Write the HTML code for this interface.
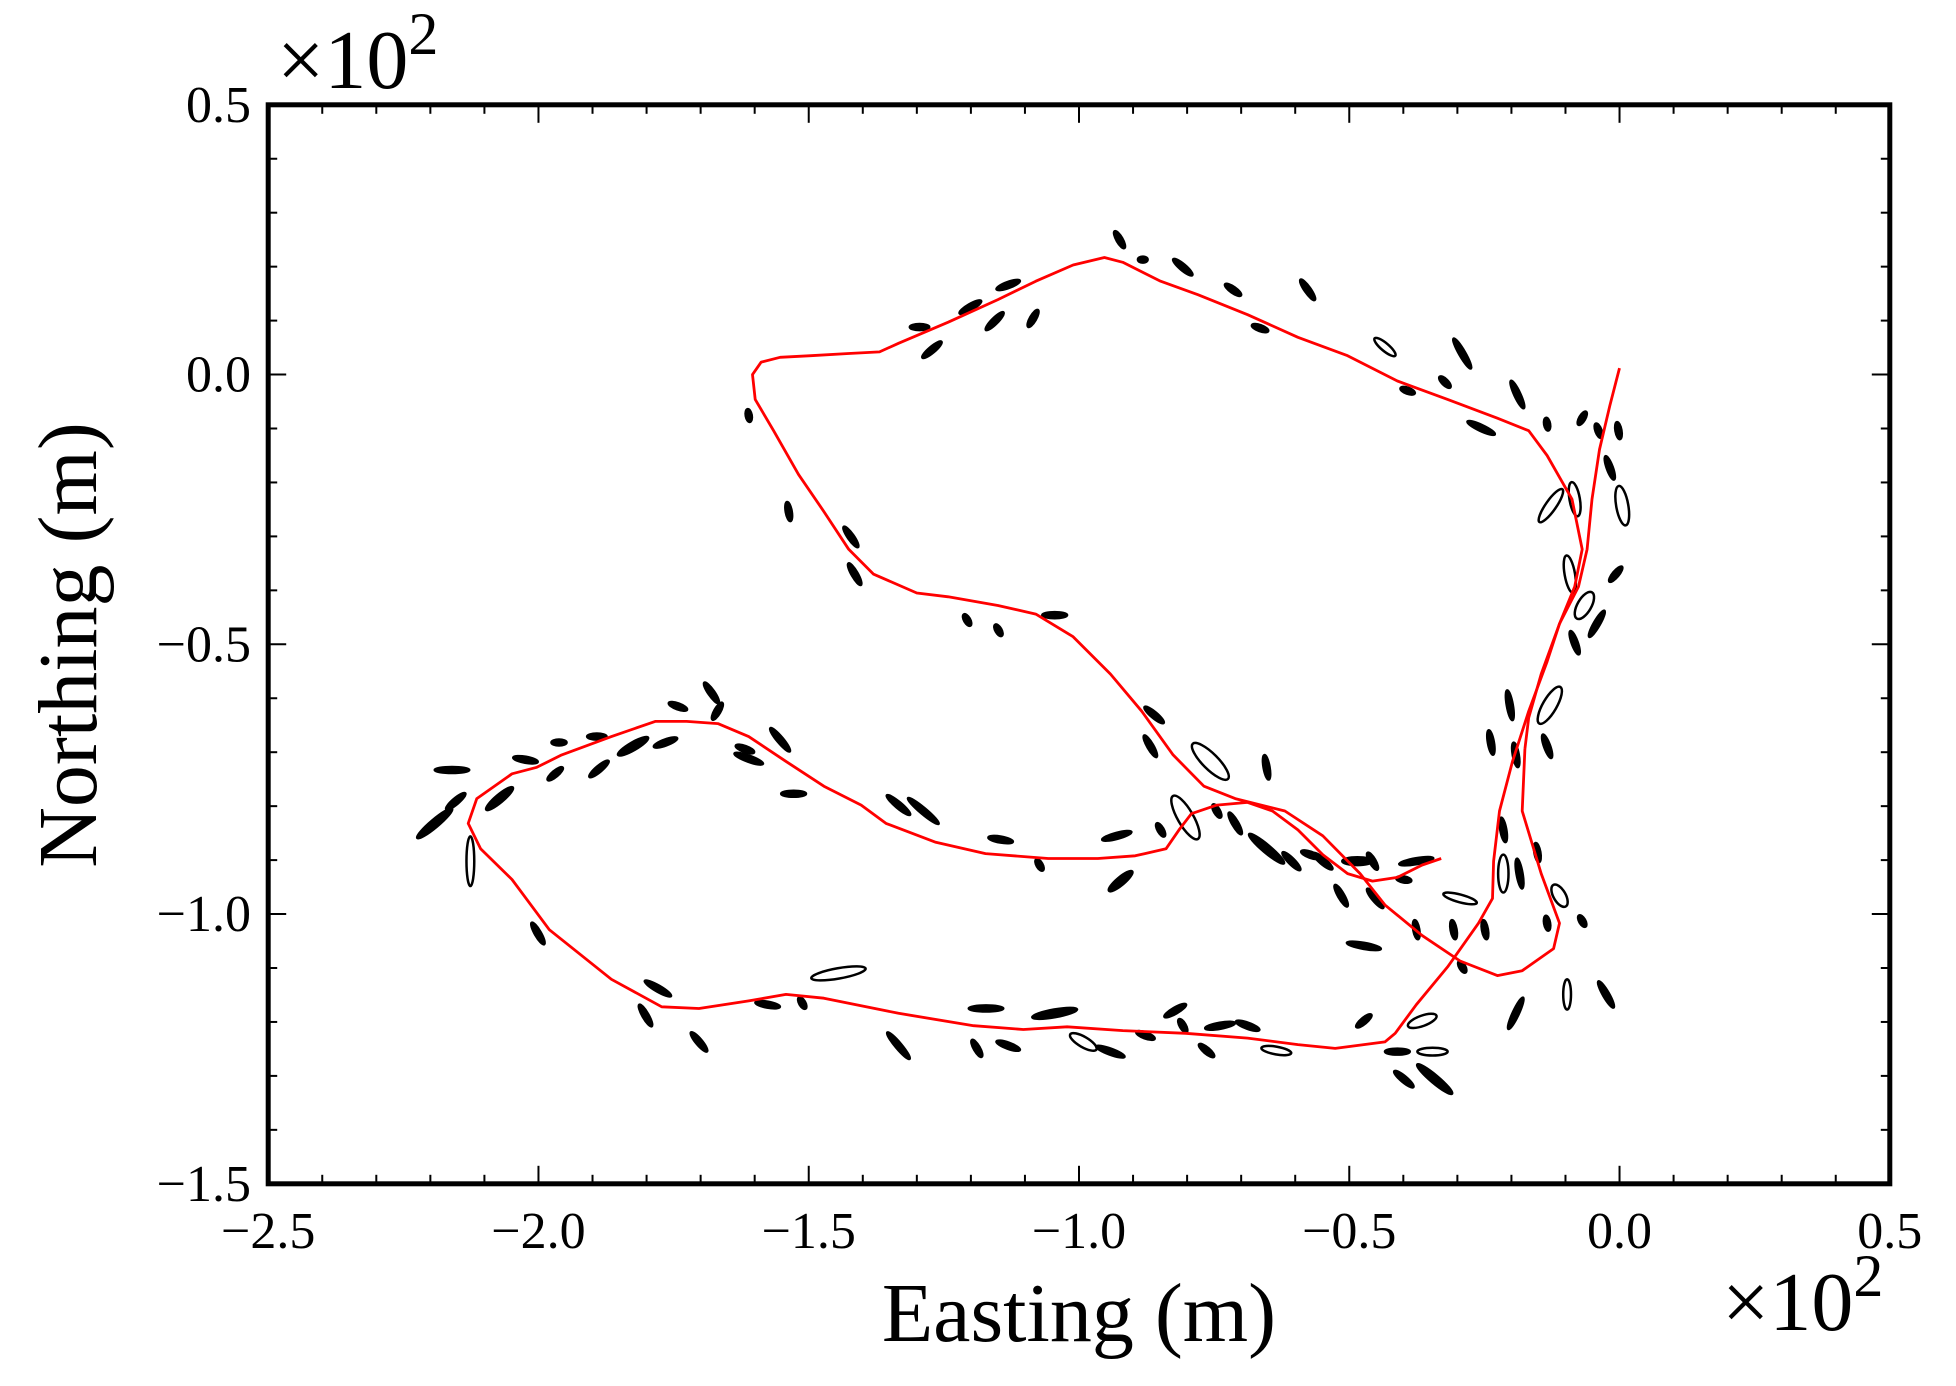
<!DOCTYPE html>
<html><head><meta charset="utf-8">
<style>
html,body{margin:0;padding:0;background:#fff;}
svg{display:block;}
text{font-family:"Liberation Serif",serif;fill:#000;}
</style></head>
<body>
<svg id="chart" width="1956" height="1386" viewBox="0 0 1956 1386" xmlns="http://www.w3.org/2000/svg">
<g id="grid-ticks"></g>
<g id="ellipses"></g>
<g id="paths"></g>
<rect x="268.2" y="104.8" width="1621.6" height="1079" fill="none" stroke="#000" stroke-width="5"/>
<g id="labels"></g>
<text x="277" y="88" font-size="84">×10<tspan dy="-34" font-size="60">2</tspan></text>
<text x="1722" y="1330" font-size="84">×10<tspan dy="-34" font-size="60">2</tspan></text>
<text x="1079" y="1341" font-size="84" text-anchor="middle">Easting (m)</text>
<text transform="translate(96,645) rotate(-90)" font-size="84" text-anchor="middle">Northing (m)</text>
</svg>
<script>
// Trajectory A (easting, northing) in metres
const pathAE = [0,-1.8,-3.7,-5.1,-6.0,-7.6,-11.1,-13.4,-16.8,-19.8,-22.2,-23.3,-23.5,-26.1,-31.8,-37.6,-41.5,-43.4,-52.6,-59.5,-68.8,-80.3,-91.9,-102.2,-110.3,-119.5,-133.4,-147.2,-154.2,-161.1,-170.3,-177.2,-186.5,-198.0,-204.9,-210.7,-213.0,-211.4,-204.9,-200.3,-195.7,-186.5,-178.4,-172.6,-166.8,-161.1,-154.2,-147.2,-140.3,-135.7,-126.5,-117.3,-105.7,-96.5,-89.6,-83.9,-81.5,-79.2,-74.5,-68.8,-64.2,-59.5,-54.9,-50.3,-45.7,-41.1,-36.5,-33.0];
const pathAN = [1.2,-5.8,-13.9,-23.1,-32.4,-39.3,-46.2,-53.2,-62.4,-71.7,-80.9,-90.2,-97.1,-101.7,-109.8,-116.8,-122.1,-123.7,-124.9,-124.2,-123.0,-122.1,-121.6,-120.9,-121.4,-120.7,-118.4,-115.6,-114.9,-116.1,-117.5,-117.2,-112.1,-102.9,-93.6,-87.9,-83.2,-78.6,-74.0,-72.8,-70.5,-67.1,-64.3,-64.3,-64.7,-67.1,-71.7,-76.3,-79.8,-83.2,-86.7,-88.8,-89.7,-89.7,-89.2,-87.9,-84.4,-81.4,-79.8,-79.3,-80.9,-84.4,-89.0,-92.5,-93.9,-93.2,-90.9,-89.7];
// Trajectory B
const pathBE = [-17.5,-18.0,-14.5,-11.1,-12.2,-18.0,-22.6,-29.5,-36.5,-43.4,-48.0,-54.9,-61.9,-71.1,-76.9,-82.6,-88.4,-94.2,-101.1,-108.0,-115.0,-124.2,-130.0,-138.0,-142.6,-147.2,-151.9,-156.5,-159.9,-160.4,-158.8,-155.3,-149.6,-142.6,-136.9,-133.4,-124.2,-115.0,-108.0,-101.1,-95.3,-91.9,-84.9,-78.0,-68.8,-59.5,-50.3,-41.1,-31.8,-22.6,-16.8,-13.4,-8.8,-6.9,-8.3,-11.1,-14.5,-16.8,-17.5];
const pathBN = [-69.4,-80.9,-92.5,-101.7,-106.4,-110.5,-111.4,-108.7,-104.0,-98.3,-92.5,-85.5,-80.9,-78.6,-76.3,-70.5,-62.4,-55.5,-48.6,-44.4,-42.8,-41.2,-40.5,-37.0,-32.4,-25.4,-18.5,-10.4,-4.6,0,2.3,3.2,3.5,3.9,4.2,5.8,9.7,13.9,17.3,20.3,21.7,20.8,17.3,14.8,11.1,6.9,3.5,-1.2,-4.6,-8.1,-10.4,-15.0,-23.1,-32.4,-39.3,-46.2,-55.5,-63.6,-69.4];
// Ellipses: centre easting, northing, semi-axes (m), orientation (deg), open flag
const ellE = [-92.5,-88.2,-80.8,-71.5,-57.7,-66.5,-43.4,-29.1,-32.3,-39.2,-18.9,-25.6,-13.4,-6.9,-3.9,-0.2,-1.8,0.5,-12.7,-8.3,-0.7,-9.2,-6.5,-4.2,-8.3,-12.9,-20.3,-23.8,-13.4,-19.2,-21.5,-21.5,-11.1,-13.4,-6.9,-29.5,-24.9,-30.7,-37.6,-29.1,-47.3,-45.2,-51.5,-39.9,-37.6,-48.5,-57.2,-45.7,-54.9,-60.7,-65.3,-71.1,-74.5,-65.3,-75.7,-80.3,-86.8,-86.1,-92.3,-93.0,-84.9,-104.5,-114.9,-120.7,-141.5,-142.2,-153.7,-161.1,-127.2,-129.5,-115.6,-108.5,-120.1,-113.1,-168.0,-166.9,-174.2,-176.5,-182.5,-189.2,-188.8,-196.2,-196.9,-202.4,-207.2,-216.0,-215.3,-219.2,-212.6,-200.1,-177.9,-180.2,-170.3,-161.8,-155.3,-161.1,-152.8,-133.4,-128.8,-114.5,-107.3,-144.5,-157.6,-151.2,-133.4,-118.9,-117.2,-113.1,-104.5,-99.2,-94.2,-87.7,-82.2,-80.8,-73.9,-76.4,-68.8,-63.5,-47.3,-36.5,-41.1,-34.6,-39.9,-34.2,-19.2,-9.7,-2.5,-15.2,-18.5];
const ellN = [25.0,21.3,19.9,15.7,15.7,8.6,5.1,3.9,-1.4,-3.0,-3.7,-9.9,-9.2,-8.1,-10.4,-10.4,-17.3,-24.3,-24.3,-23.1,-37.0,-37.0,-42.8,-46.2,-49.7,-61.3,-61.3,-68.2,-68.9,-70.5,-84.4,-92.5,-96.6,-101.7,-101.3,-97.1,-102.9,-102.9,-102.9,-109.8,-105.9,-97.1,-96.6,-93.6,-90.2,-90.2,-89.0,-90.2,-90.2,-90.2,-87.9,-83.2,-80.9,-72.8,-71.7,-82.1,-68.9,-63.1,-93.9,-85.5,-84.4,-44.6,-47.4,-45.5,-37.0,-30.1,-25.4,-7.6,4.6,8.8,9.9,10.4,12.5,16.6,-59.0,-62.4,-61.5,-68.2,-68.9,-67.1,-73.1,-68.2,-74.0,-71.4,-78.6,-73.3,-79.1,-83.2,-90.2,-103.6,-113.8,-118.8,-123.7,-69.4,-67.7,-71.2,-77.7,-79.8,-80.9,-86.2,-90.9,-111.0,-116.8,-116.5,-124.4,-124.9,-117.5,-124.4,-118.4,-123.7,-125.5,-122.5,-117.9,-120.7,-120.7,-125.3,-120.7,-125.3,-119.8,-119.8,-125.5,-125.5,-130.6,-130.6,-118.4,-114.9,-114.9,-88.6,-92.5];
const ellA = [1.8,0.9,2.3,1.8,2.3,1.6,2.5,3.2,1.4,1.4,2.8,2.8,1.2,1.4,1.4,1.6,2.3,3.7,3.7,3.2,1.8,3.5,2.8,2.8,2.3,3.9,2.8,2.3,2.3,2.3,2.3,3.5,2.3,1.4,1.2,3.2,1.8,1.8,1.8,1.2,3.2,2.3,2.3,1.4,3.2,2.8,1.8,1.8,2.3,2.3,4.2,2.3,1.4,2.3,4.6,4.6,2.3,2.3,2.8,2.8,1.4,2.3,1.2,1.2,2.3,2.3,1.8,1.2,2.3,1.8,2.3,1.8,2.3,2.3,2.3,1.8,1.8,2.3,3.2,1.8,2.3,1.4,1.8,2.3,3.2,3.2,2.3,4.2,4.6,2.3,2.8,2.3,2.3,1.8,2.8,2.8,2.3,2.8,3.7,2.3,1.2,5.1,2.3,1.2,3.2,1.8,3.2,2.3,4.2,2.8,2.8,1.8,2.3,1.4,2.8,1.8,2.3,2.8,1.8,2.8,2.3,2.8,2.3,4.2,3.2,2.8,2.8,1.8,2.8];
const ellB = [0.7,0.7,0.7,0.7,0.7,0.7,0.9,0.7,0.7,0.7,0.7,0.7,0.7,0.7,0.7,0.7,0.7,1.4,1.2,1.2,0.7,1.2,1.6,0.7,0.7,1.6,0.7,0.7,0.7,0.7,0.7,1.2,1.4,0.7,0.7,0.9,0.7,0.7,0.7,0.7,0.7,0.7,0.7,0.7,0.7,0.9,0.7,0.7,0.7,0.7,0.9,0.7,0.7,0.7,1.8,1.8,0.7,0.7,0.9,0.7,0.7,0.7,0.7,0.7,0.7,0.7,0.7,0.7,0.7,0.7,0.7,0.7,0.7,0.7,0.7,0.7,0.7,0.7,0.9,0.7,0.7,0.7,0.7,0.7,0.9,0.7,0.7,0.9,0.9,0.7,0.7,0.7,0.7,0.7,0.7,0.7,0.7,0.7,0.7,0.7,0.7,1.2,0.7,0.7,0.7,0.7,0.7,0.7,0.9,1.2,0.7,0.7,0.7,0.7,0.7,0.7,0.7,0.9,0.7,1.2,0.7,0.9,0.7,0.9,0.7,0.9,0.7,0.7,0.7];
const ellAng = [60,0,40,35,55,20,40,60,45,20,65,25,80,-60,70,80,70,80,-55,80,-50,80,-60,-60,70,-60,80,80,70,80,80,90,60,80,60,15,80,80,80,60,10,50,60,10,-10,0,20,60,40,45,40,60,60,80,45,60,60,40,-40,-15,60,0,60,60,60,55,80,80,-40,0,-45,-60,-30,-20,55,-60,20,-20,-30,0,-40,0,-40,10,-40,0,-40,-40,90,60,30,60,50,20,50,20,0,40,40,10,60,-10,10,60,50,60,0,20,-10,30,20,20,-30,60,-10,40,20,10,-40,-20,0,0,40,40,-65,90,60,80,80];
const ellOpen = [0,0,0,0,0,0,1,0,0,0,0,0,0,0,0,0,0,1,1,1,0,1,1,0,0,1,0,0,0,0,0,1,1,0,0,1,0,0,0,0,0,0,0,0,0,0,0,0,0,0,0,0,0,0,1,1,0,0,0,0,0,0,0,0,0,0,0,0,0,0,0,0,0,0,0,0,0,0,0,0,0,0,0,0,0,0,0,0,1,0,0,0,0,0,0,0,0,0,0,0,0,1,0,0,0,0,0,0,0,1,0,0,0,0,0,0,0,1,0,1,0,1,0,0,0,1,0,0,0];
const xTicks = [-250,-200,-150,-100,-50,0,50];
const xTickLabels = ["\u22122.5","\u22122.0","\u22121.5","\u22121.0","\u22120.5","0.0","0.5"];
const yTicks = [50,0,-50,-100,-150];
const yTickLabels = ["0.5","0.0","\u22120.5","\u22121.0","\u22121.5"];

const NS = "http://www.w3.org/2000/svg";
const L = 268.2, R = 1889.8, T = 104.8, B = 1183.8;
const xMin = -250, xMax = 50, yMin = -150, yMax = 50;
const kx = (R - L) / (xMax - xMin), ky = (B - T) / (yMax - yMin);
function sx(v){ return L + (v - xMin) * kx; }
function sy(v){ return B - (v - yMin) * ky; }

const ticks = document.getElementById('grid-ticks');
const labels = document.getElementById('labels');
function line(g, x1, y1, x2, y2, w){
  const l = document.createElementNS(NS, 'line');
  l.setAttribute('x1', x1); l.setAttribute('y1', y1);
  l.setAttribute('x2', x2); l.setAttribute('y2', y2);
  l.setAttribute('stroke', '#000'); l.setAttribute('stroke-width', w);
  
  
  g.appendChild(l);
}
for (let v = xMin; v <= xMax + 0.01; v += 10) {
  const major = Math.abs(v % 50) < 0.01;
  const len = major ? 18 : 9, x = sx(v);
  line(ticks, x, B, x, B - len, 2);
  line(ticks, x, T, x, T + len, 2);
}
for (let v = yMin; v <= yMax + 0.01; v += 10) {
  const major = Math.abs(v % 50) < 0.01;
  const len = major ? 18 : 9, y = sy(v);
  line(ticks, L, y, L + len, y, 2);
  line(ticks, R, y, R - len, y, 2);
}
xTicks.forEach((v, i) => {
  const t = document.createElementNS(NS, 'text');
  t.setAttribute('x', sx(v)); t.setAttribute('y', 1248);
  t.setAttribute('font-size', '52'); t.setAttribute('text-anchor', 'middle');
  t.textContent = xTickLabels[i];
  
  
  labels.appendChild(t);
});
yTicks.forEach((v, i) => {
  const t = document.createElementNS(NS, 'text');
  t.setAttribute('x', 251); t.setAttribute('y', sy(v) + 17);
  t.setAttribute('font-size', '52'); t.setAttribute('text-anchor', 'end');
  t.textContent = yTickLabels[i];
  
  
  labels.appendChild(t);
});

const eg = document.getElementById('ellipses');
ellE.forEach((e, i) => {
  const el = document.createElementNS(NS, 'ellipse');
  el.setAttribute('cx', sx(e)); el.setAttribute('cy', sy(ellN[i]));
  el.setAttribute('rx', ellA[i] * kx); el.setAttribute('ry', ellB[i] * kx * 0.8);
  el.setAttribute('transform', 'rotate(' + ellAng[i] + ' ' + sx(e) + ' ' + sy(ellN[i]) + ')');
  el.setAttribute('fill', ellOpen[i] ? 'none' : '#000');
  el.setAttribute('stroke', '#000'); el.setAttribute('stroke-width', '2.5');
  
  
  eg.appendChild(el);
});

const pg = document.getElementById('paths');
function drawPath(E, N, name){
  const p = document.createElementNS(NS, 'polyline');
  p.setAttribute('points', E.map((e, i) => sx(e).toFixed(1) + ',' + sy(N[i]).toFixed(1)).join(' '));
  p.setAttribute('fill', 'none'); p.setAttribute('stroke', '#ff0000');
  p.setAttribute('stroke-width', '2.8'); p.setAttribute('stroke-linejoin', 'round');
  
  
  pg.appendChild(p);
}
drawPath(pathAE, pathAN, 'trajectory-segment-a');
drawPath(pathBE, pathBN, 'trajectory-segment-b');
</script>
</body></html>
